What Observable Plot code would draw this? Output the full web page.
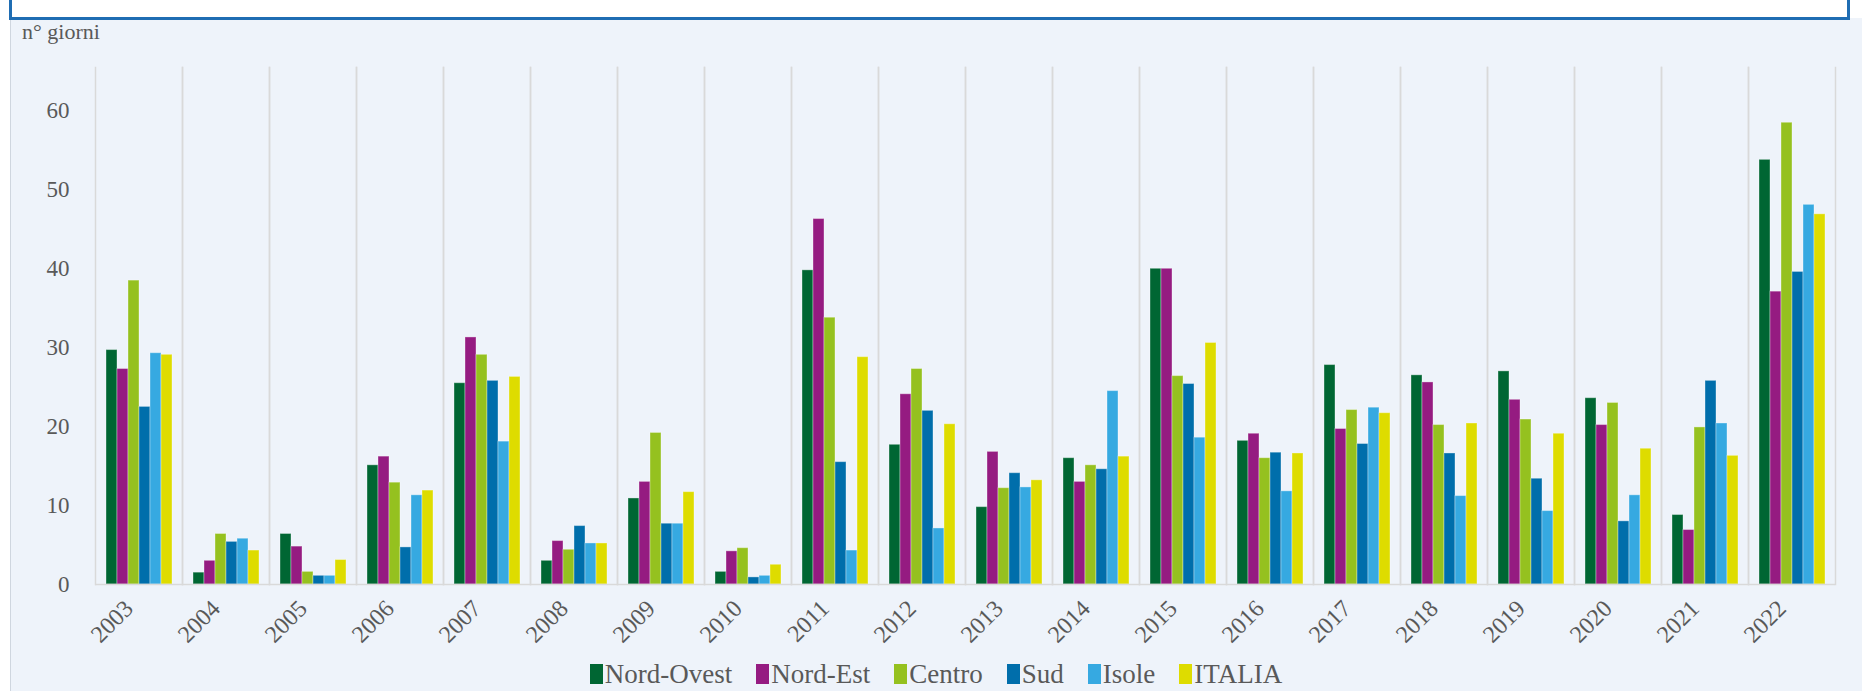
<!DOCTYPE html>
<html>
<head>
<meta charset="utf-8">
<script src="https://cdn.jsdelivr.net/npm/d3@7"></script>
<script src="https://cdn.jsdelivr.net/npm/@observablehq/plot@0.6"></script>
<style>
  html, body { margin: 0; padding: 0; background: #ffffff; width: 1862px; height: 691px; overflow: hidden; }
  #topbox { position: absolute; left: 9px; top: -6px; width: 1835px; height: 20px; border: 3px solid #1f6db3; background: #ffffff; }
  #panel { position: absolute; left: 10px; top: 18px; right: 0; bottom: 0; background: #eef3fa; border-left: 1px solid #cfd6df; }
  #ylabel { position: absolute; left: 22px; top: 19px; font-family: "Liberation Serif", "Times New Roman", serif; font-size: 22px; color: #595959; }
  #chart { position: absolute; left: 0; top: 0; }
  #legend { position: absolute; left: 10px; right: 0; top: 659px; height: 30px; display: flex; justify-content: center; align-items: center;
            font-family: "Liberation Serif", "Times New Roman", serif; font-size: 27px; color: #595959; line-height: 30px; }
  .item { display: inline-flex; align-items: center; margin-right: 24px; white-space: nowrap; }
  .item:last-child { margin-right: 0; }
  .sw { display: inline-block; width: 13px; height: 20px; margin-right: 2px; }
</style>
</head>
<body>
<div id="panel"></div>
<div id="topbox"></div>
<div id="ylabel">n° giorni</div>
<div id="chart"></div>
<div id="legend"></div>
<script>
const years = ["2003","2004","2005","2006","2007","2008","2009","2010","2011","2012","2013","2014","2015","2016","2017","2018","2019","2020","2021","2022"];
const regions = ["Nord-Ovest","Nord-Est","Centro","Sud","Isole","ITALIA"];
const colors = ["#006633","#951b81","#95c11f","#006eab","#36a9e1","#dedc00"];
const nordOvest = [29.7, 1.5, 6.4, 15.1, 25.5, 3.0, 10.9, 1.6, 39.8, 17.7, 9.8, 16.0, 40.0, 18.2, 27.8, 26.5, 27.0, 23.6, 8.8, 53.8];
const nordEst   = [27.3, 3.0, 4.8, 16.2, 31.3, 5.5, 13.0, 4.2, 46.3, 24.1, 16.8, 13.0, 40.0, 19.1, 19.7, 25.6, 23.4, 20.2, 6.9, 37.1];
const centro    = [38.5, 6.4, 1.6, 12.9, 29.1, 4.4, 19.2, 4.6, 33.8, 27.3, 12.2, 15.1, 26.4, 16.0, 22.1, 20.2, 20.9, 23.0, 19.9, 58.5];
const sud       = [22.5, 5.4, 1.1, 4.7, 25.8, 7.4, 7.7, 0.9, 15.5, 22.0, 14.1, 14.6, 25.4, 16.7, 17.8, 16.6, 13.4, 8.0, 25.8, 39.6];
const isole     = [29.3, 5.8, 1.1, 11.3, 18.1, 5.2, 7.7, 1.1, 4.3, 7.1, 12.3, 24.5, 18.6, 11.8, 22.4, 11.2, 9.3, 11.3, 20.4, 48.1];
const italia    = [29.1, 4.3, 3.1, 11.9, 26.3, 5.2, 11.7, 2.5, 28.8, 20.3, 13.2, 16.2, 30.6, 16.6, 21.7, 20.4, 19.1, 17.2, 16.3, 46.9];
const yTicks = [0, 10, 20, 30, 40, 50, 60];

const series = [nordOvest, nordEst, centro, sud, isole, italia];
const data = [];
years.forEach((y, i) => regions.forEach((r, j) => data.push({year: y, region: r, value: series[j][i]})));

const textColor = "#595959";
const serif = "'Liberation Serif', 'Times New Roman', serif";

const chart = Plot.plot({
  width: 1862,
  height: 650,
  marginLeft: 88,
  marginRight: 20,
  marginTop: 67,
  marginBottom: 66,
  style: {fontFamily: serif, fontSize: "22px", color: textColor, background: "transparent", overflow: "visible"},
  fx: {domain: years, padding: 0, label: null, axis: null},
  x: {domain: regions, padding: 0, insetLeft: 8, insetRight: 8, axis: null},
  y: {domain: [0, 65.5], label: null},
  color: {domain: regions, range: colors},
  marks: [
    Plot.frame({anchor: "left", stroke: "#d9d9d9", strokeWidth: 1.5}),
    Plot.frame({anchor: "right", stroke: "#d9d9d9", strokeWidth: 1.5}),
    Plot.barY(data, {fx: "year", x: "region", y: "value", fill: "region", stroke: "#ffffff", strokeOpacity: 0.35, strokeWidth: 1}),
    Plot.ruleY([0], {stroke: "#d9d9d9", strokeWidth: 1.5}),
    Plot.axisY(yTicks, {tickSize: 0, tickPadding: 26, fontSize: 23, fill: textColor, label: null}),
    Plot.axisFx({anchor: "bottom", tickSize: 0, tickRotate: -45, tickPadding: 20, dx: -10, fontSize: 24, fill: textColor, label: null})
  ]
});
document.getElementById("chart").appendChild(chart);

const color = chart.scale("color");
const legendDiv = d3.select("#legend");
regions.forEach(r => {
  const item = legendDiv.append("span").attr("class", "item");
  item.append("span").attr("class", "sw").style("background", color.apply(r));
  item.append("span").text(r);
});
</script>
</body>
</html>
